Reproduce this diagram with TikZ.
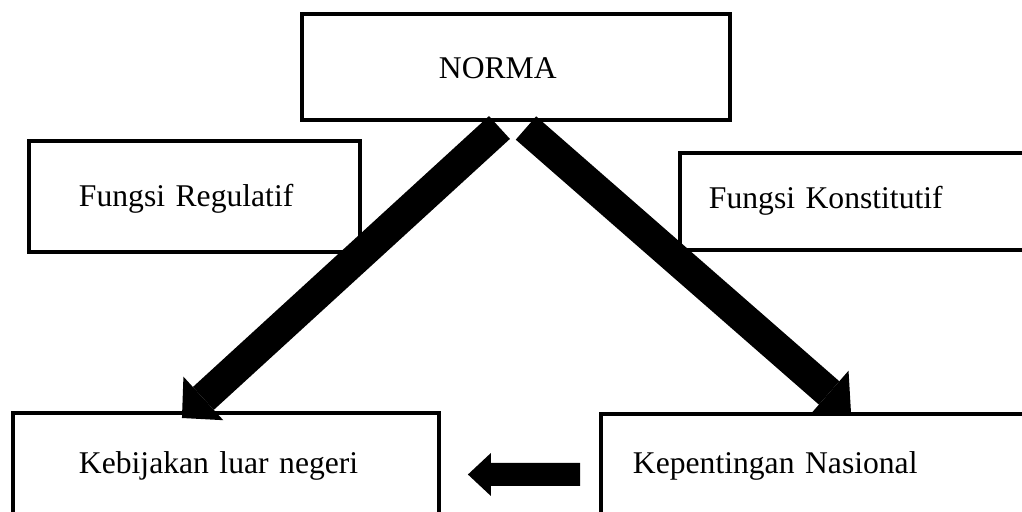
\documentclass[tikz,border=0pt]{standalone}
\usepackage{fontspec}
\setmainfont{Liberation Serif}
\usetikzlibrary{positioning, arrows.meta, calc}

\begin{document}
\begin{tikzpicture}[
  x=0.02cm, y=-0.02cm,
  box/.style={rectangle, draw, line width=0.08cm, anchor=north west, align=left, inner ysep=0pt,
    text height=0.5cm, text depth=0.1cm, font=\fontsize{18}{21.6}\selectfont},
  bigarrow/.style={-{Triangle[length=0.58cm, width=1.18cm, line width=0pt]}, line width=0.62cm},
  smallarrow/.style={-{Triangle[length=0.46cm, width=0.86cm, line width=0pt]}, line width=0.46cm}
]
  \clip (0,0) rectangle (1022,511);

  \node[box, minimum height=2.12cm, text width=3.08cm, inner xsep=2.74cm, text depth=0.02cm] (norma) at (300,12) {NORMA};
  \node[box, minimum height=2.22cm, text width=4.62cm, inner xsep=1cm] (regulatif) at (27,139) {Fungsi Regulatif};
  \node[box, minimum height=1.94cm, text width=7.84cm, inner xsep=0.58cm, text depth=0.22cm] (konstitutif) at (678,151) {Fungsi Konstitutif};
  \node[box, minimum height=2.02cm, text width=5.88cm, inner xsep=1.32cm] (kebijakan) at (11,411) {Kebijakan luar negeri};
  \node[box, minimum height=2cm, text width=8.72cm, inner xsep=0.64cm] (kepentingan) at (599,412) {Kepentingan Nasional};

  \draw[bigarrow] ($(norma.south)+(-16.5,5.5)$) -- ($(kebijakan.north)+(-44,7)$);
  \draw[bigarrow] ($(norma.south)+(10,6)$) -- (kepentingan.north);
  \draw[smallarrow] ($(kepentingan.west)+(-19,10.5)$) -- ($(kebijakan.east)+(27,11)$);
\end{tikzpicture}
\end{document}
